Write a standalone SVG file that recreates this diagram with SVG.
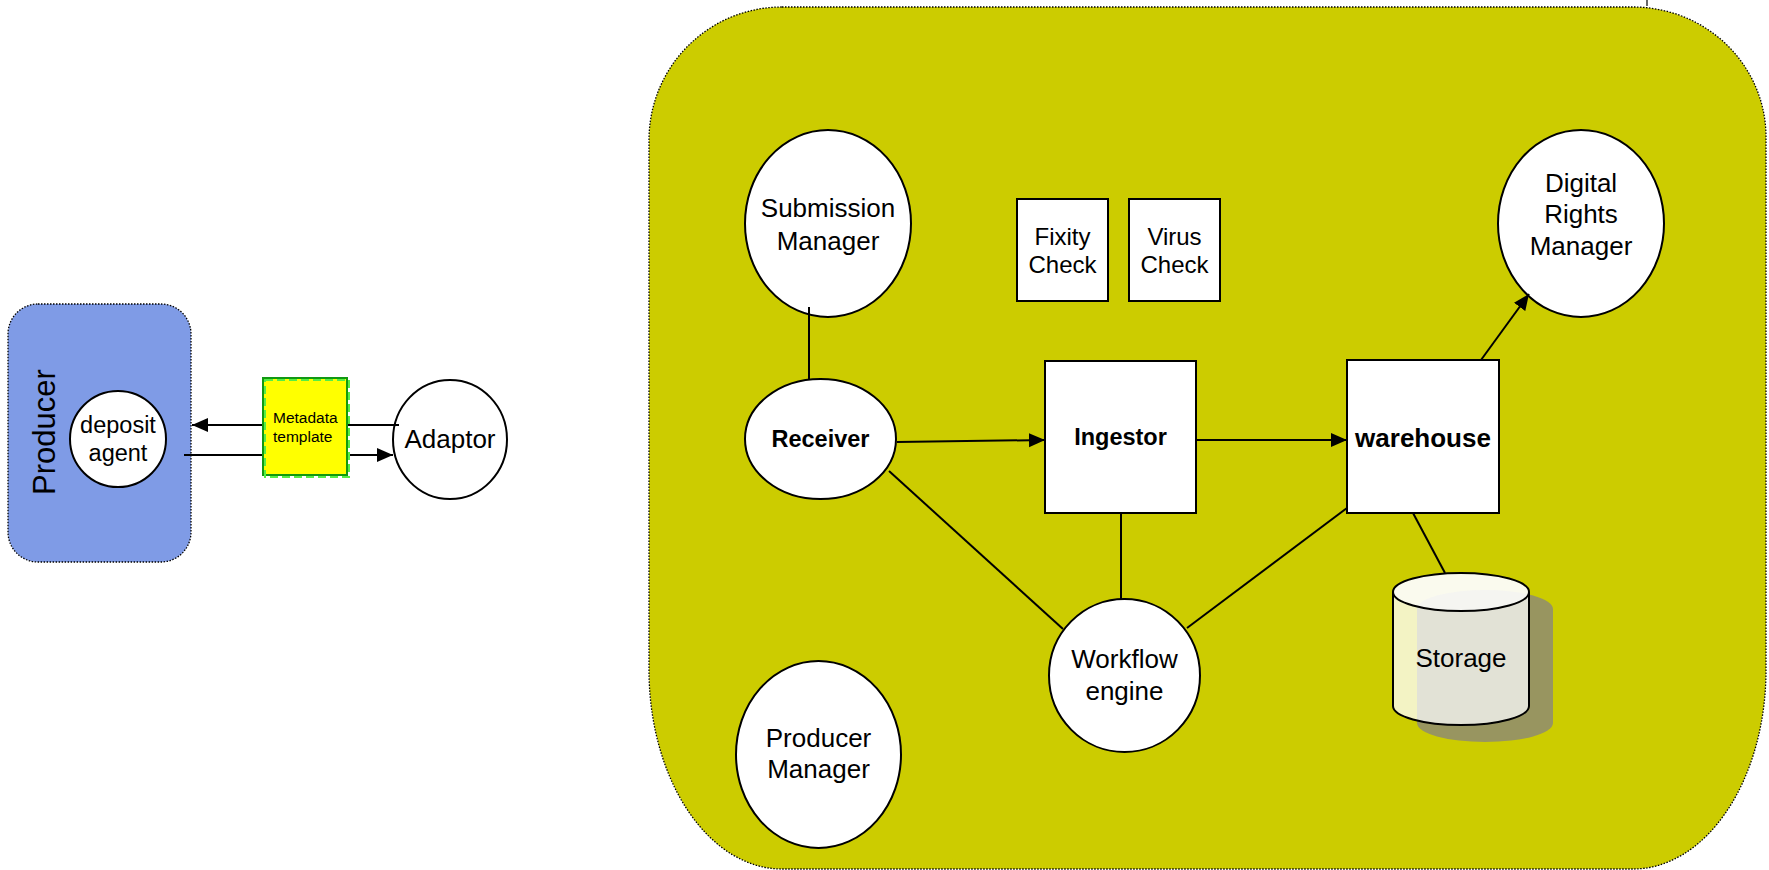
<svg xmlns="http://www.w3.org/2000/svg" width="1769" height="870" viewBox="0 0 1769 870">
<style>
.node{fill:#ffffff;stroke:#000000;stroke-width:2}
.t{font-family:"Liberation Sans",Arial,sans-serif;font-size:26px;fill:#000000;text-anchor:middle}
.b{font-weight:bold}
.conn line{stroke:#000000;stroke-width:2}
.arr{marker-end:url(#ah)}
</style>
<defs>
<marker id="ah" markerUnits="userSpaceOnUse" markerWidth="17" markerHeight="15" refX="16" refY="7" orient="auto">
<path d="M0,0 L16,7 L0,14 Z" fill="#000000"/>
</marker>
<clipPath id="cylBody"><path d="M1393,592 V706 A68,19 0 0 0 1529,706 V592 A68,19 0 0 0 1393,592 Z"/></clipPath>
<clipPath id="cylTop"><ellipse cx="1461" cy="592" rx="68" ry="19"/></clipPath>
</defs>
<rect width="1769" height="870" fill="#ffffff"/>
<line x1="1647" y1="0" x2="1647" y2="6" stroke="#000000" stroke-width="1.2"/>

<g id="producer">
<rect x="8" y="304" width="183" height="258" rx="30" ry="30" fill="#7f9be6" stroke="#000000" stroke-width="1.3" stroke-dasharray="1.5 1.5"/>
<text class="t" style="font-size:31px" transform="translate(55,432) rotate(-90)">Producer</text>
</g>

<g id="archive">
<path d="M782,7 H1633 A133,130 0 0 1 1766,137 V670 A133,199 0 0 1 1633,869 H782 A133,199 0 0 1 649,670 V140 A133,133 0 0 1 782,7 Z" fill="#cccc00" stroke="#000000" stroke-width="1.3" stroke-dasharray="1.5 1.5"/>
</g>

<g id="deposit-agent">
<circle class="node" cx="118" cy="439" r="48"/>
<text class="t" style="font-size:23.5px" x="118" y="433">deposit</text>
<text class="t" style="font-size:23.5px" x="118" y="461">agent</text>
</g>

<g id="adaptor">
<ellipse class="node" cx="450" cy="439.5" rx="57" ry="59.5"/>
<text class="t" x="450" y="448">Adaptor</text>
</g>

<g id="submission-manager">
<ellipse class="node" cx="828" cy="223.5" rx="83" ry="93.5"/>
<text class="t" x="828" y="217">Submission</text>
<text class="t" x="828" y="250">Manager</text>
</g>

<g id="fixity-check">
<rect class="node" x="1017" y="199" width="91" height="102"/>
<text class="t" style="font-size:24px" x="1062.5" y="245">Fixity</text>
<text class="t" style="font-size:24px" x="1062.5" y="273">Check</text>
</g>

<g id="virus-check">
<rect class="node" x="1129" y="199" width="91" height="102"/>
<text class="t" style="font-size:24px" x="1174.5" y="245">Virus</text>
<text class="t" style="font-size:24px" x="1174.5" y="273">Check</text>
</g>

<g id="digital-rights-manager">
<ellipse class="node" cx="1581" cy="223.5" rx="83" ry="93.5"/>
<text class="t" x="1581" y="192">Digital</text>
<text class="t" x="1581" y="223">Rights</text>
<text class="t" x="1581" y="255">Manager</text>
</g>

<g id="receiver">
<ellipse class="node" cx="820.5" cy="439" rx="75.5" ry="60"/>
<text class="t b" style="font-size:23.5px" x="820.5" y="447">Receiver</text>
</g>

<g id="ingestor">
<rect class="node" x="1045" y="361" width="151" height="152"/>
<text class="t b" style="font-size:23.5px" x="1120.5" y="445">Ingestor</text>
</g>

<g id="warehouse">
<rect class="node" x="1347" y="360" width="152" height="153"/>
<text class="t b" x="1423" y="447">warehouse</text>
</g>

<g id="workflow-engine">
<ellipse class="node" cx="1124.5" cy="675.5" rx="75.5" ry="76.5"/>
<text class="t" x="1124.5" y="668">Workflow</text>
<text class="t" x="1124.5" y="700">engine</text>
</g>

<g id="producer-manager">
<ellipse class="node" cx="818.5" cy="754.5" rx="82.5" ry="93.5"/>
<text class="t" x="818.5" y="747">Producer</text>
<text class="t" x="818.5" y="778">Manager</text>
</g>

<g id="storage">
<path d="M1417,609 V723 A68,19 0 0 0 1553,723 V609 A68,19 0 0 0 1417,609 Z" fill="#989560"/>
<path d="M1393,592 V706 A68,19 0 0 0 1529,706 V592 A68,19 0 0 0 1393,592 Z" fill="#f3f3c4"/>
<path clip-path="url(#cylBody)" d="M1417,609 V723 A68,19 0 0 0 1553,723 V609 A68,19 0 0 0 1417,609 Z" fill="#e2e2d6"/>
<ellipse cx="1461" cy="592" rx="68" ry="19" fill="#fafaee"/>
<ellipse clip-path="url(#cylTop)" cx="1485" cy="609" rx="68" ry="19" fill="#f5f5f1"/>
<path d="M1393,592 V706 A68,19 0 0 0 1529,706 V592" fill="none" stroke="#000000" stroke-width="2"/>
<ellipse cx="1461" cy="592" rx="68" ry="19" fill="none" stroke="#000000" stroke-width="2"/>
<text class="t" x="1461" y="667">Storage</text>
</g>

<g id="connectors" class="conn">
<line class="arr" x1="399" y1="425" x2="192" y2="425"/>
<line class="arr" x1="184" y1="455" x2="393" y2="455"/>
<line x1="809" y1="307" x2="809" y2="379"/>
<line class="arr" x1="897" y1="442" x2="1045" y2="440"/>
<line class="arr" x1="1196" y1="440" x2="1347" y2="440"/>
<line class="arr" x1="1481" y1="360" x2="1529" y2="294"/>
<line x1="889" y1="471" x2="1063" y2="629"/>
<line x1="1121" y1="513" x2="1121" y2="599"/>
<line x1="1347" y1="508" x2="1187" y2="628"/>
<line x1="1413" y1="513" x2="1445" y2="573"/>
</g>

<g id="metadata-template">
<rect x="263" y="378" width="84" height="97" fill="#ffff00" stroke="#119911" stroke-width="2"/>
<rect x="265" y="380" width="84" height="97" fill="none" stroke="#55ee44" stroke-width="2" stroke-dasharray="8 4"/>
<text class="t" style="font-size:15.5px;text-anchor:start" x="273" y="423">Metadata</text>
<text class="t" style="font-size:15.5px;text-anchor:start" x="273" y="442">template</text>
</g>
</svg>
